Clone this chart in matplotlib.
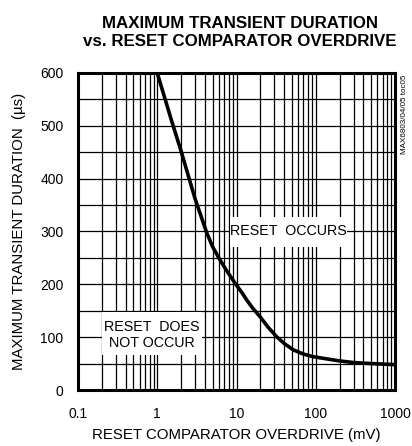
import matplotlib
matplotlib.use("Agg")
import matplotlib.pyplot as plt
from matplotlib.patches import Rectangle
import numpy as np

plt.rcParams['font.family'] = ['Liberation Sans', 'DejaVu Sans']

overdrive_mv = [1, 1.5, 2, 3, 4.2, 5, 6.2, 7.5, 9.6, 12, 13.5, 16, 20, 25, 32, 40, 52, 70, 93, 150, 200, 300, 500, 1000]
duration_us = [600, 512, 452, 362, 298, 271, 246, 226, 202, 182, 170, 155, 138, 119, 101, 88, 76, 68, 63, 58, 55, 52, 50, 48]

x_ticks = [0.1, 1, 10, 100, 1000]
x_tick_labels = ["0.1", "1", "10", "100", "1000"]
y_ticks = [0, 100, 200, 300, 400, 500, 600]

W, H = 412, 446
fig = plt.figure(figsize=(W/100, H/100), dpi=100)
ax = fig.add_axes([78/W, 1-390/H, (395-78)/W, (390-73)/H])
ax.set_xscale('log')
ax.set_xlim(0.1, 1000)
ax.set_ylim(0, 600)

# grid
minor = [m * 10.0**e for e in range(-1, 3) for m in range(2, 10)]
for v in minor + x_ticks[1:-1]:
    ax.axvline(v, color='black', lw=0.9, zorder=1)
for v in range(50, 600, 50):
    ax.axhline(v, color='black', lw=0.9, zorder=1)

ax.plot(overdrive_mv, duration_us, color='black', lw=2.6, zorder=3,
        solid_capstyle='butt', solid_joinstyle='round')

ax.set_xticks(x_ticks)
ax.set_xticklabels(x_tick_labels)
ax.set_xticks([], minor=True)
ax.set_yticks(y_ticks)
ax.tick_params(axis='both', length=0, labelsize=10)
ax.tick_params(axis='y', pad=10.4)
ax.tick_params(axis='x', pad=12.5)
for s in ax.spines.values():
    s.set_linewidth(2.2)
    s.set_zorder(4)

def pix_rect(x0, y0, x1, y1):
    # figure pixel box (top-left origin) -> white patch
    r = Rectangle((x0/W, 1-y1/H), (x1-x0)/W, (y1-y0)/H, transform=fig.transFigure,
                  facecolor='white', edgecolor='none', zorder=2)
    ax.add_patch(r)

pix_rect(230, 217, 347, 247)
pix_rect(102, 312, 202, 355)

ax.text(45, 300, "RESET  OCCURS", ha='center', va='center', fontsize=10.3, zorder=2.5)
ax.text(0.86, 104, "RESET  DOES\nNOT OCCUR", ha='center', va='center', fontsize=10.3, zorder=2.5,
        linespacing=1.25)

ax.set_xlabel("RESET COMPARATOR OVERDRIVE (mV)", fontsize=10.8, labelpad=5)
ax.set_ylabel("MAXIMUM TRANSIENT DURATION  (µs)", fontsize=10.8, labelpad=10)

fig.text(240/W, 1-33/H, "MAXIMUM TRANSIENT DURATION\nvs. RESET COMPARATOR OVERDRIVE",
         ha='center', va='center', fontsize=12.2, fontweight='bold', linespacing=1.25)
fig.text(404/W, 1-75/H, "MAX6803/04/05 toc05", rotation=90, ha='center', va='top', fontsize=5.8)

fig.savefig("out.png", dpi=100)
